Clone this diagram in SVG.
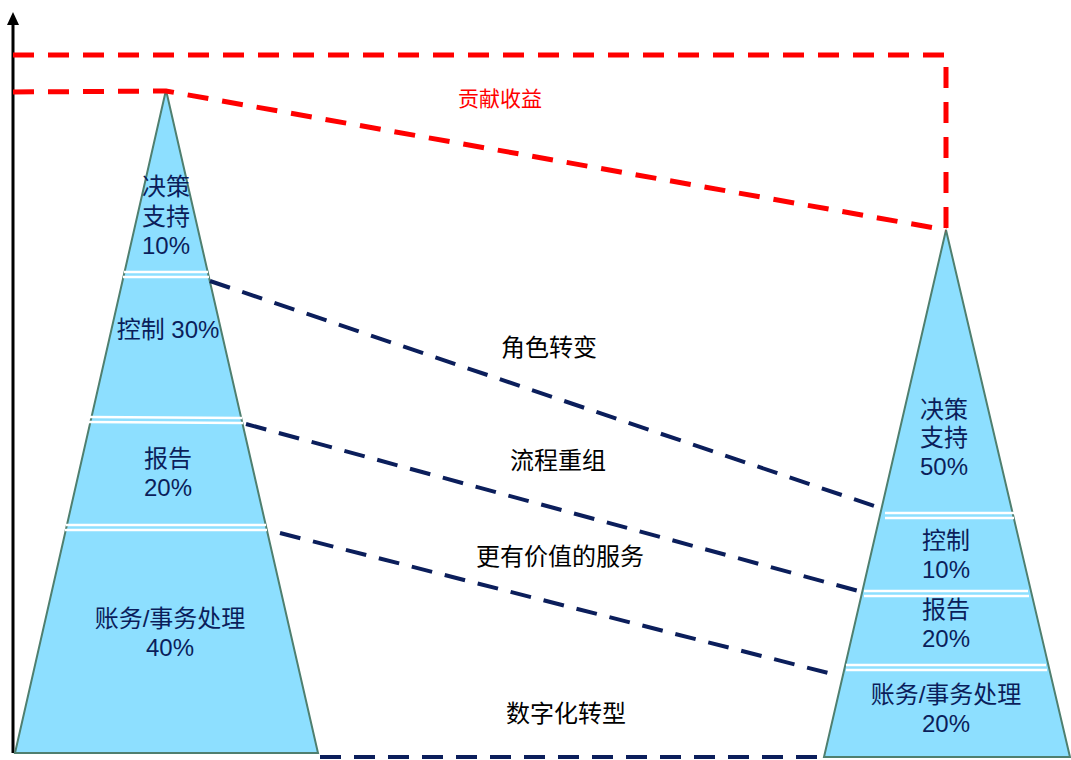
<svg xmlns="http://www.w3.org/2000/svg" width="1071" height="760" viewBox="0 0 1071 760">
<style>
.tri{fill:#8ddfff;stroke:#4f7f6f;stroke-width:2}
.sep{stroke:#fff;stroke-width:2.5}
.red{fill:none;stroke:#ff0000;stroke-width:5;stroke-dasharray:21 14}
.navy{fill:none;stroke:#0b1e5b;stroke-width:4;stroke-dasharray:21 13}
.in{font-family:"Liberation Sans","Noto Sans CJK SC",sans-serif;font-size:24px;fill:#0b1e5b;text-anchor:middle}
.mid{font-family:"Liberation Sans","Noto Sans CJK SC",sans-serif;font-size:24px;fill:#000;text-anchor:middle}
.lab{font-family:"Liberation Sans","Noto Sans CJK SC",sans-serif;font-size:21px;fill:#ff0000;text-anchor:middle}
</style>
<rect width="1071" height="760" fill="#fff"/>
<g id="axis">
<line x1="13" y1="753" x2="13" y2="22" stroke="#000" stroke-width="3"/>
<polygon points="13,12 7,25 19,25" fill="#000"/>
</g>
<g id="left-pyramid">
<polygon class="tri" points="166,90 15,753 318,753"/>
<line class="sep" x1="124" y1="272" x2="208" y2="272"/>
<line class="sep" x1="123" y1="277" x2="209" y2="277"/>
<line class="sep" x1="90" y1="417" x2="242" y2="418"/>
<line class="sep" x1="89" y1="422" x2="243" y2="423"/>
<line class="sep" x1="66" y1="525" x2="266" y2="525"/>
<line class="sep" x1="65" y1="530" x2="267" y2="530"/>
<text class="in" x="166" y="195">决策</text>
<text class="in" x="166" y="225">支持</text>
<text class="in" x="166" y="254">10%</text>
<text class="in" x="168" y="338">控制 30%</text>
<text class="in" x="168" y="467">报告</text>
<text class="in" x="168" y="496">20%</text>
<text class="in" x="170" y="627">账务/事务处理</text>
<text class="in" x="170" y="656">40%</text>
</g>
<g id="right-pyramid">
<polygon class="tri" points="946,230 824,757 1070,757"/>
<line class="sep" x1="885" y1="513" x2="1014" y2="513"/>
<line class="sep" x1="885" y1="518" x2="1014" y2="518"/>
<line class="sep" x1="864" y1="591" x2="1028" y2="591"/>
<line class="sep" x1="864" y1="596" x2="1029" y2="596"/>
<line class="sep" x1="846" y1="665" x2="1046" y2="665"/>
<line class="sep" x1="846" y1="670" x2="1047" y2="670"/>
<text class="in" x="944" y="418">决策</text>
<text class="in" x="944" y="446">支持</text>
<text class="in" x="944" y="475">50%</text>
<text class="in" x="946" y="549">控制</text>
<text class="in" x="946" y="578">10%</text>
<text class="in" x="946" y="618">报告</text>
<text class="in" x="946" y="647">20%</text>
<text class="in" x="946" y="703">账务/事务处理</text>
<text class="in" x="946" y="732">20%</text>
</g>
<g id="connectors">
<polyline class="red" points="13,55 946,55 946,230"/>
<polyline class="red" points="13,92 166,91 946,230"/>
<line class="navy" x1="210" y1="281" x2="883" y2="509"/>
<line class="navy" x1="246" y1="424" x2="862" y2="592"/>
<line class="navy" x1="280" y1="533" x2="840" y2="676"/>
<line class="navy" x1="320" y1="757" x2="824" y2="757"/>
</g>
<g id="labels">
<text class="lab" x="500" y="106">贡献收益</text>
<text class="mid" x="549" y="356">角色转变</text>
<text class="mid" x="558" y="469">流程重组</text>
<text class="mid" x="560" y="565">更有价值的服务</text>
<text class="mid" x="566" y="722">数字化转型</text>
</g>
</svg>
